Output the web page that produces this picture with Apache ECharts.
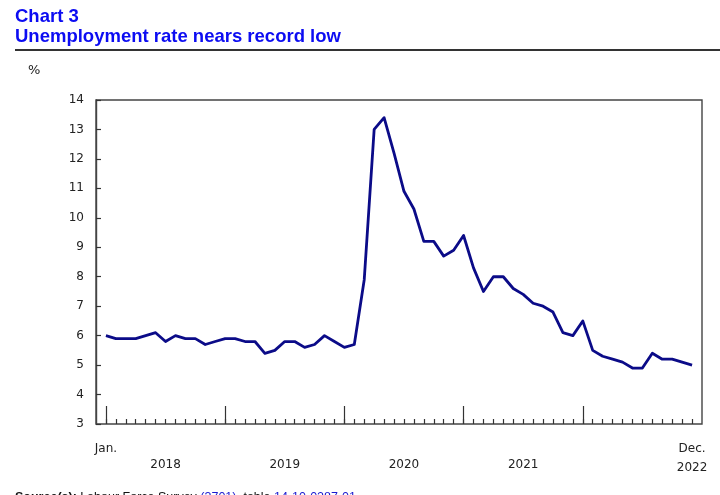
<!DOCTYPE html>
<html>
<head>
<meta charset="utf-8">
<script src="https://cdn.jsdelivr.net/npm/echarts@6/dist/echarts.min.js"></script>
<style>
html,body{margin:0;padding:0;background:#fff;}
#chart{width:720px;height:495px;}
</style>
</head>
<body>
<div id="chart"></div>
<script>
// ---- data ----
const years = ['2018', '2019', '2020', '2021', '2022'];
const monthNames = ['Jan.', 'Feb.', 'Mar.', 'Apr.', 'May', 'June', 'July', 'Aug.', 'Sept.', 'Oct.', 'Nov.', 'Dec.'];
const rate2018 = [6.0, 5.9, 5.9, 5.9, 6.0, 6.1, 5.8, 6.0, 5.9, 5.9, 5.7, 5.8];
const rate2019 = [5.9, 5.9, 5.8, 5.8, 5.4, 5.5, 5.8, 5.8, 5.6, 5.7, 6.0, 5.8];
const rate2020 = [5.6, 5.7, 7.9, 13.0, 13.4, 12.2, 10.9, 10.3, 9.2, 9.2, 8.7, 8.9];
const rate2021 = [9.4, 8.3, 7.5, 8.0, 8.0, 7.6, 7.4, 7.1, 7.0, 6.8, 6.1, 6.0];
const rate2022 = [6.5, 5.5, 5.3, 5.2, 5.1, 4.9, 4.9, 5.4, 5.2, 5.2, 5.1, 5.0];
const yTicks = [3, 4, 5, 6, 7, 8, 9, 10, 11, 12, 13, 14];

// ---- build ----
const categories = [];
years.forEach(y => monthNames.forEach(m => categories.push(m + ' ' + y)));
const rates = [].concat(rate2018, rate2019, rate2020, rate2021, rate2022);
// pad one empty slot on each side so the frame extends one step beyond the data
const axisData = [''].concat(categories, ['']);
const seriesData = [null].concat(rates, [null]);
const N = categories.length;

const FONT = 'DejaVu Sans';
const chart = echarts.init(document.getElementById('chart'), null, {renderer: 'canvas'});

const baseX = {
  type: 'category',
  data: axisData,
  boundaryGap: false,
  position: 'bottom',
  axisLine: {show: false},
  splitLine: {show: false}
};

chart.setOption({
  animation: false,
  backgroundColor: '#fff',
  grid: {
    left: 96, right: 18, top: 100, bottom: 71,
    show: true, borderColor: '#444', borderWidth: 1.4, backgroundColor: 'transparent'
  },
  xAxis: [
    Object.assign({}, baseX, {
      axisTick: {
        show: true, inside: true, length: 5,
        lineStyle: {color: '#333', width: 1.2},
        interval: (i) => i >= 1 && i <= N
      },
      axisLabel: {
        show: true, margin: 15, color: '#222', fontFamily: FONT, fontSize: 12, lineHeight: 19,
        interval: (i) => i === 1 || i === N,
        formatter: (v, i) => {
          if (i === 1) return categories[0].split(' ')[0];
          if (i === N) { const p = categories[N - 1].split(' '); return p[0] + '\n' + p[1]; }
          return '';
        }
      }
    }),
    Object.assign({}, baseX, {
      axisTick: {
        show: true, inside: true, length: 18,
        lineStyle: {color: '#333', width: 1.2},
        interval: (i) => i >= 1 && i < N && (i - 1) % 12 === 0
      },
      axisLabel: {
        show: true, margin: 35, color: '#222', fontFamily: FONT, fontSize: 12,
        interval: (i) => i >= 1 && i < N - 12 && (i - 1) % 12 === 6,
        formatter: (v, i) => years[Math.floor((i - 1) / 12)]
      }
    })
  ],
  yAxis: {
    type: 'value',
    min: yTicks[0], max: yTicks[yTicks.length - 1], interval: 1,
    axisLine: {show: true, lineStyle: {color: '#444', width: 1.4}},
    axisTick: {show: true, inside: true, length: 5, lineStyle: {color: '#333', width: 1.2}},
    axisLabel: {margin: 12, color: '#222', fontFamily: FONT, fontSize: 12},
    splitLine: {show: false}
  },
  series: [{
    type: 'line',
    xAxisIndex: 0,
    data: seriesData,
    showSymbol: false,
    symbol: 'none',
    lineStyle: {color: '#0b0b88', width: 2.8, join: 'round'},
    silent: true
  }],
  graphic: [
    {type: 'text', left: 15, top: 7, style: {text: 'Chart 3', font: 'bold 18.5px "Liberation Sans", Arial, sans-serif', fill: '#0c0cf2'}},
    {type: 'text', left: 15, top: 27, style: {text: 'Unemployment rate nears record low', font: 'bold 18.5px "Liberation Sans", Arial, sans-serif', fill: '#0c0cf2'}},
    {type: 'rect', shape: {x: 15, y: 49, width: 705, height: 2}, style: {fill: '#333'}},
    {type: 'text', left: 28, top: 64, style: {text: '%', font: '13px "DejaVu Sans"', fill: '#222'}},
    {type: 'text', left: 15, top: 491, style: {
      rich: {
        b: {fontFamily: 'Liberation Sans', fontSize: 12.5, fontWeight: 'bold', fill: '#111', color: '#111'},
        n: {fontFamily: 'Liberation Sans', fontSize: 12.5, fill: '#111', color: '#111'},
        l: {fontFamily: 'Liberation Sans', fontSize: 12.5, fill: '#1a1ad0', color: '#1a1ad0'}
      },
      text: '{b|Source(s):} {n|Labour Force Survey }{l|(3701)}{n|, table }{l|14-10-0287-01}{n|.}'
    }}
  ]
});
</script>
</body>
</html>
